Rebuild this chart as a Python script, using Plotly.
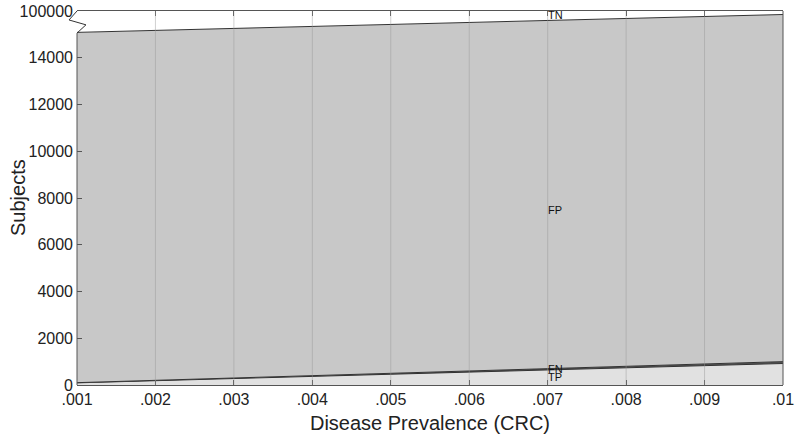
import plotly.graph_objects as go

# Data (population of 100000 subjects)
prevalence = [0.001, 0.002, 0.003, 0.004, 0.005, 0.006, 0.007, 0.008, 0.009, 0.010]
tp = [92, 184, 276, 368, 460, 552, 644, 736, 828, 920]
fn = [8, 16, 24, 32, 40, 48, 56, 64, 72, 80]
fp = [14985, 14970, 14955, 14940, 14925, 14910, 14895, 14880, 14865, 14850]
total_subjects = 100000
x_tick_vals = [0.001, 0.002, 0.003, 0.004, 0.005, 0.006, 0.007, 0.008, 0.009, 0.010]
x_tick_text = [".001", ".002", ".003", ".004", ".005", ".006", ".007", ".008", ".009", ".01"]
y_tick_vals = [0, 2000, 4000, 6000, 8000, 10000, 12000, 14000]
y_break_display = 16000  # where the 100000 top is drawn on the broken axis
label_x = 0.007

tp_top = tp
fn_top = [a + b for a, b in zip(tp, fn)]
fp_top = [a + b for a, b in zip(fn_top, fp)]
tn_top = [y_break_display] * len(prevalence)

line = dict(color="#333333", width=1)
fig = go.Figure()
fig.add_trace(go.Scatter(x=prevalence, y=tp_top, mode="lines", line=line,
                         fill="tozeroy", fillcolor="#e1e1e1", showlegend=False, hoverinfo="skip"))
fig.add_trace(go.Scatter(x=prevalence, y=fn_top, mode="lines", line=line,
                         fill="tonexty", fillcolor="#555555", showlegend=False, hoverinfo="skip"))
fig.add_trace(go.Scatter(x=prevalence, y=fp_top, mode="lines", line=line,
                         fill="tonexty", fillcolor="#c8c8c8", showlegend=False, hoverinfo="skip"))
fig.add_trace(go.Scatter(x=prevalence, y=tn_top, mode="lines", line=dict(width=0),
                         fill="tonexty", fillcolor="#ffffff", showlegend=False, hoverinfo="skip"))

# Gridlines over the fills
for xv in x_tick_vals[1:-1]:
    fig.add_shape(type="line", x0=xv, x1=xv, y0=0, y1=1, xref="x", yref="paper",
                  line=dict(color="rgba(150,150,150,0.45)", width=1), layer="above")

# Axis break zigzag at top of left axis
fig.add_shape(type="path", xref="paper", yref="paper",
              path="M 0,1 L -0.0113,0.976 L 0.0127,0.963 L 0,0.941",
              line=dict(color="#333333", width=1), layer="above")

lab_font = dict(family="Liberation Sans, Arial", size=11, color="#111111")
for text, yv in [("TN", 15820), ("FP", 7500), ("FN", 690), ("TP", 330)]:
    fig.add_annotation(x=label_x, y=yv, text=text, showarrow=False, font=lab_font,
                       xanchor="left", xshift=-2)

# y-axis title
fig.add_annotation(xref="paper", yref="paper", x=0, y=0.5, xshift=-59, text="Subjects",
                   xanchor="center", yanchor="middle",
                   textangle=-90, showarrow=False, font=dict(size=20, color="#222222"))

fig.update_layout(
    width=800, height=440,
    margin=dict(l=77, r=17, t=11, b=55),
    paper_bgcolor="white", plot_bgcolor="white",
    font=dict(family="Liberation Sans, Arial", color="#222222"),
    xaxis=dict(range=[0.001, 0.01], tickvals=x_tick_vals, ticktext=x_tick_text,
               showgrid=False, zeroline=False, showline=True, linecolor="#555555",
               mirror="ticks", ticks="inside", ticklen=5, tickcolor="#555555",
               tickfont=dict(size=16), layer="above traces", automargin=False,
               title=dict(text="Disease Prevalence (CRC)", font=dict(size=20), standoff=8)),
    yaxis=dict(range=[0, y_break_display],
               tickvals=y_tick_vals + [y_break_display],
               ticktext=[str(v) for v in y_tick_vals] + [str(total_subjects)],
               showgrid=False, zeroline=False, showline=False,
               ticks="inside", ticklen=5, tickcolor="#555555", ticklabelstandoff=3,
               tickfont=dict(size=16), layer="above traces", automargin=False),
)
# left axis line from 0 up to the break, right axis line full
fig.add_shape(type="line", xref="paper", yref="paper", x0=0, x1=0, y0=0, y1=0.941,
              line=dict(color="#555555", width=1), layer="above")
fig.add_shape(type="line", xref="paper", yref="paper", x0=1, x1=1, y0=0, y1=1,
              line=dict(color="#555555", width=1), layer="above")

fig.write_html("out.html", config={"displayModeBar": False},
               post_script="document.body.style.margin='0';document.body.style.overflow='hidden';")
